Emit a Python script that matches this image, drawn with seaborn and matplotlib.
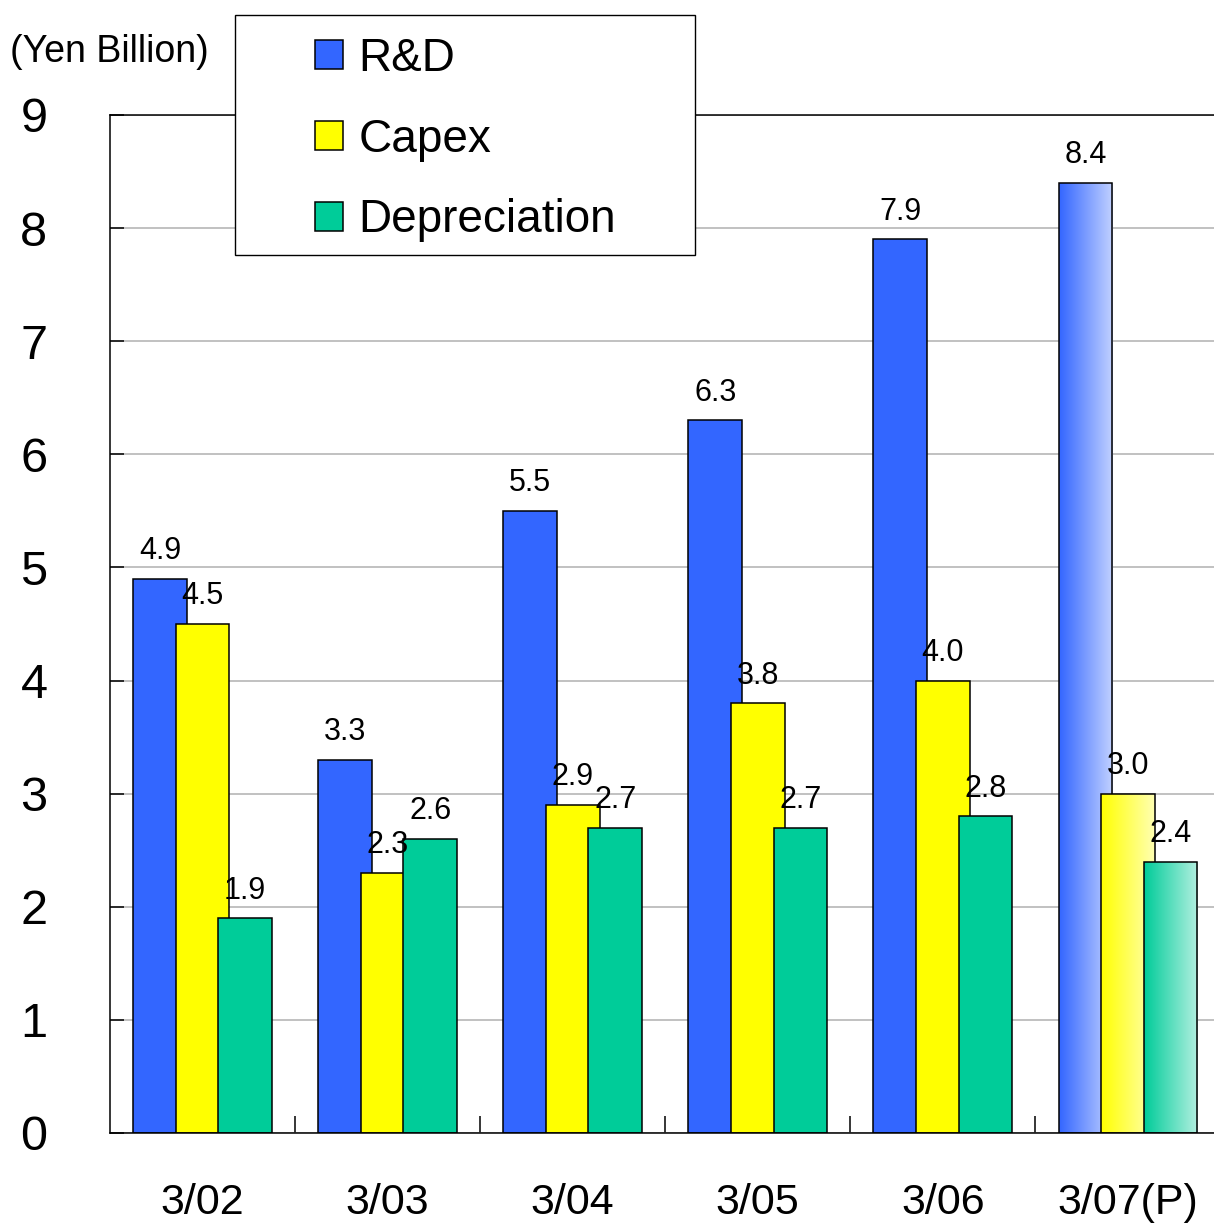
import seaborn as sns
import matplotlib.pyplot as plt
import pandas as pd
import numpy as np
from matplotlib.patches import Patch, Rectangle
from matplotlib.colors import to_rgb

periods = ['3/02', '3/03', '3/04', '3/05', '3/06', '3/07(P)']
items = ['R&D', 'Capex', 'Depreciation']
rnd = [4.9, 3.3, 5.5, 6.3, 7.9, 8.4]
capex = [4.5, 2.3, 2.9, 3.8, 4.0, 3.0]
depreciation = [1.9, 2.6, 2.7, 2.7, 2.8, 2.4]
colors = ['#3366FF', '#FFFF00', '#00CC99']
yticks = list(range(0, 10))

df = pd.DataFrame({
    'period': periods * 3,
    'item': [items[0]] * 6 + [items[1]] * 6 + [items[2]] * 6,
    'value': rnd + capex + depreciation,
})

sns.set_style('white')
plt.rcParams['font.family'] = ['Liberation Sans', 'DejaVu Sans']
plt.rcParams['text.color'] = 'black'
plt.rcParams['xtick.color'] = 'black'
plt.rcParams['ytick.color'] = 'black'

fig = plt.figure(figsize=(12.14, 12.25), dpi=100)
ax = fig.add_axes([110/1214, 92/1225, 1104/1214, 1018/1225])

sns.barplot(data=df, x='period', y='value', hue='item', palette=colors,
            width=0.69, saturation=1, errorbar=None, edgecolor='black',
            linewidth=1.1, legend=False, ax=ax)

bar_w = 0.29
for k, cont in enumerate(ax.containers):
    for bar in cont:
        cx = bar.get_x() + bar.get_width() / 2
        bar.set_width(bar_w)
        bar.set_x(cx - bar_w / 2)
        bar.set_zorder(2 + 0.1 * k)
    ax.bar_label(cont, fmt='%.1f', padding=9, fontsize=22, color='black')

# gradient fill for the forecast year
for k, cont in enumerate(ax.containers):
    bar = cont[-1]
    base = np.array(to_rgb(colors[k]))
    t = np.linspace(0, 1, 256)[:, None]
    grad = base * (1 - 0.7 * t) + 0.7 * t
    img = ax.imshow(grad[None, :, :], aspect='auto', interpolation='bilinear',
                    extent=[bar.get_x(), bar.get_x() + bar.get_width(), 0, bar.get_height()],
                    zorder=1.99 + 0.1 * k)
    img.set_clip_path(bar)
    bar.set_facecolor('none')

ax.set_xlim(-0.5, 5.465)
ax.set_ylim(0, 9)
ax.set_yticks(yticks)
ax.yaxis.grid(True, color='#B0B0B0', linewidth=1.1)
ax.set_axisbelow(True)
ax.set_xlabel('')
ax.set_ylabel('')
for s in ['left', 'bottom', 'top']:
    ax.spines[s].set_color('black')
    ax.spines[s].set_linewidth(1.1)
ax.spines['right'].set_visible(False)

ax.tick_params(axis='y', direction='in', length=10, width=1.1, pad=45,
               labelsize=35, left=True, labelcolor='black')
ax.tick_params(axis='x', which='major', length=0, pad=36, labelsize=31, labelcolor='black')
ax.set_xticks(np.arange(0.5, 5, 1), minor=True)
ax.tick_params(axis='x', which='minor', direction='in', length=12, width=1.1, bottom=True)

fig.text(10/1214, 1 - 52/1225, '(Yen Billion)', ha='left', va='center', fontsize=27, color='black')

fig.add_artist(Rectangle((235/1214, 1 - 255/1225), 460/1214, 240/1225,
                         transform=fig.transFigure, facecolor='white',
                         edgecolor='black', linewidth=1.0, zorder=1.5))
handles = [Patch(facecolor=c, edgecolor='black', linewidth=1.1) for c in colors]
leg = fig.legend(handles, items, loc='upper left', bbox_to_anchor=(315/1214, 1 - 37/1225),
                 frameon=False, fontsize=33, handlelength=0.6, handleheight=0.6,
                 handletextpad=0.35, labelspacing=0.8, borderpad=0, borderaxespad=0)
for txt in leg.get_texts():
    txt.set_color('black')

plt.savefig('out.png', dpi=100)
